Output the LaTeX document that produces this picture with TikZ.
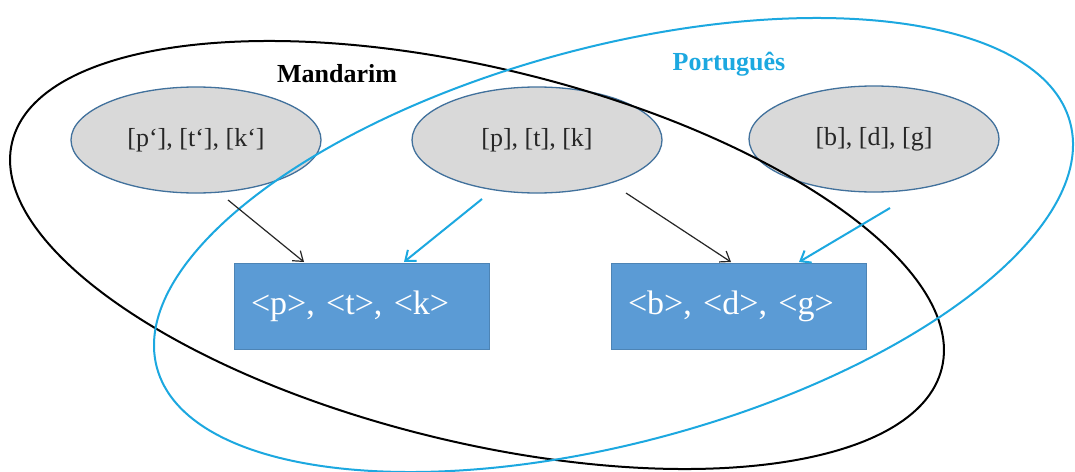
\documentclass[tikz,border=0pt]{standalone}
\usepackage{fontspec}
\setmainfont{Liberation Serif}
\usetikzlibrary{shapes.geometric,arrows.meta}
\definecolor{pblue}{RGB}{28,168,224}
\definecolor{boxblue}{RGB}{91,155,213}
\definecolor{boxedge}{RGB}{65,113,156}
\definecolor{ovalfill}{RGB}{217,217,217}
\begin{document}
\begin{tikzpicture}[x=1pt,y=-1pt,
  oval/.style={ellipse, draw=boxedge, line width=1.3pt, fill=ovalfill,
    minimum width=250pt, minimum height=106pt, inner sep=0pt,
    font=\fontsize{26}{30}\selectfont, text=black!85},
  glyphbox/.style={rectangle, draw=boxblue!85!black, line width=0.6pt, fill=boxblue,
    minimum width=255pt, minimum height=86pt, inner xsep=17pt, inner ysep=0pt,
    text width=221pt, align=left, text=white, font=\fontsize{34}{40}\selectfont},
  setlabel/.style={font=\bfseries\fontsize{26}{30}\selectfont, inner sep=0pt},
  blackarrow/.style={draw=black!85, line width=1.2pt, -{Straight Barb[length=9pt,width=13pt]}},
  bluearrow/.style={draw=pblue, line width=2pt, -{Straight Barb[length=9pt,width=14pt]}},
  bigset/.style={line width=2pt}
]
\useasboundingbox (0,0) rectangle (1075,471);
\fill[white] (0,0) rectangle (1075,471);

% gray ovals
\node[oval] (o1) at (196,140) {[p‘], [t‘], [k‘]};
\node[oval] (o2) at (537,140) {[p], [t], [k]};
\node[oval] (o3) at (874,139) {[b], [d], [g]};

% set ellipses
\draw[bigset, black, rotate around={-13.67:(477,255)}] (477,255) ellipse [x radius=478.4, y radius=187];
\draw[bigset, pblue, rotate around={15.03:(613.5,245)}] (613.5,245) ellipse [x radius=472.8, y radius=197.8];

% set labels
\node[setlabel, text=black] (lm) at (337,74) {Mandarim};
\node[setlabel, text=pblue] (lp) at (729,64) {Português};

% grapheme boxes
\node[glyphbox] (b1) at (361.5,306) {<p>, <t>, <k>};
\node[glyphbox] (b2) at (738.5,306) {<b>, <d>, <g>};

% arrows
\coordinate (a1s) at (228,200); \coordinate (a1e) at (304,262);
\coordinate (a2s) at (482,199); \coordinate (a2e) at (404,262);
\coordinate (a3s) at (626,193); \coordinate (a3e) at (731,262);
\coordinate (a4s) at (890,208); \coordinate (a4e) at (799,262);
\draw[blackarrow] (a1s) -- (a1e);
\draw[bluearrow] (a2s) -- (a2e);
\draw[blackarrow] (a3s) -- (a3e);
\draw[bluearrow] (a4s) -- (a4e);
\end{tikzpicture}
\end{document}
